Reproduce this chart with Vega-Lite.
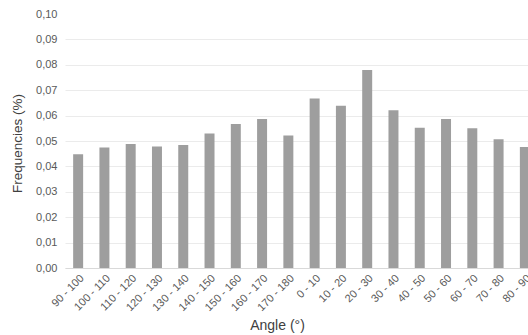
{
  "$schema": "https://vega.github.io/schema/vega-lite/v6.json",
  "width": 473,
  "height": 254,
  "autosize": {"type": "none"},
  "padding": {"left": 65, "top": 14, "right": 0, "bottom": 67},
  "background": "white",
  "config": {
    "view": {"stroke": null},
    "font": "Liberation Sans",
    "axis": {"labelFont": "Liberation Sans", "titleFont": "Liberation Sans", "labelColor": "#595959", "titleColor": "#404040", "titleFontWeight": "normal"}
  },
  "data": {
    "values": [
      {"angle": "90 - 100", "freq": 0.0448},
      {"angle": "100 - 110", "freq": 0.0474},
      {"angle": "110 - 120", "freq": 0.0488},
      {"angle": "120 - 130", "freq": 0.0478},
      {"angle": "130 - 140", "freq": 0.0484},
      {"angle": "140 - 150", "freq": 0.0530},
      {"angle": "150 - 160", "freq": 0.0567},
      {"angle": "160 - 170", "freq": 0.0587},
      {"angle": "170 - 180", "freq": 0.0522},
      {"angle": "0 - 10", "freq": 0.0667},
      {"angle": "10 - 20", "freq": 0.0639},
      {"angle": "20 - 30", "freq": 0.0780},
      {"angle": "30 - 40", "freq": 0.0621},
      {"angle": "40 - 50", "freq": 0.0552},
      {"angle": "50 - 60", "freq": 0.0587},
      {"angle": "60 - 70", "freq": 0.0550},
      {"angle": "70 - 80", "freq": 0.0507},
      {"angle": "80 - 90", "freq": 0.0476}
    ]
  },
  "mark": {"type": "bar", "color": "#9e9e9e"},
  "encoding": {
    "x": {
      "field": "angle",
      "type": "nominal",
      "sort": null,
      "scale": {"paddingInner": 0.62, "paddingOuter": 0.31},
      "axis": {
        "title": "Angle (°)",
        "titleFontSize": 14,
        "titleX": 212,
        "titleY": 61,
        "titleBaseline": "alphabetic",
        "labelAngle": -45,
        "labelFontSize": 11,
        "ticks": false,
        "labelPadding": 4,
        "domainColor": "#d9d9d9",
        "grid": false
      }
    },
    "y": {
      "field": "freq",
      "type": "quantitative",
      "scale": {"domain": [0, 0.1], "nice": false},
      "axis": {
        "title": "Frequencies (%)",
        "titleFontSize": 13.5,
        "titleX": -41,
        "titleY": 129,
        "values": [0, 0.01, 0.02, 0.03, 0.04, 0.05, 0.06, 0.07, 0.08, 0.09, 0.1],
        "labelExpr": "replace(format(datum.value, '.2f'), '.', ',')",
        "labelFontSize": 11,
        "labelPadding": 8,
        "ticks": false,
        "domain": false,
        "gridColor": "#ebebeb",
        "gridOpacity": {"condition": {"test": "datum.value >= 0.1", "value": 0}, "value": 1}
      }
    }
  }
}
